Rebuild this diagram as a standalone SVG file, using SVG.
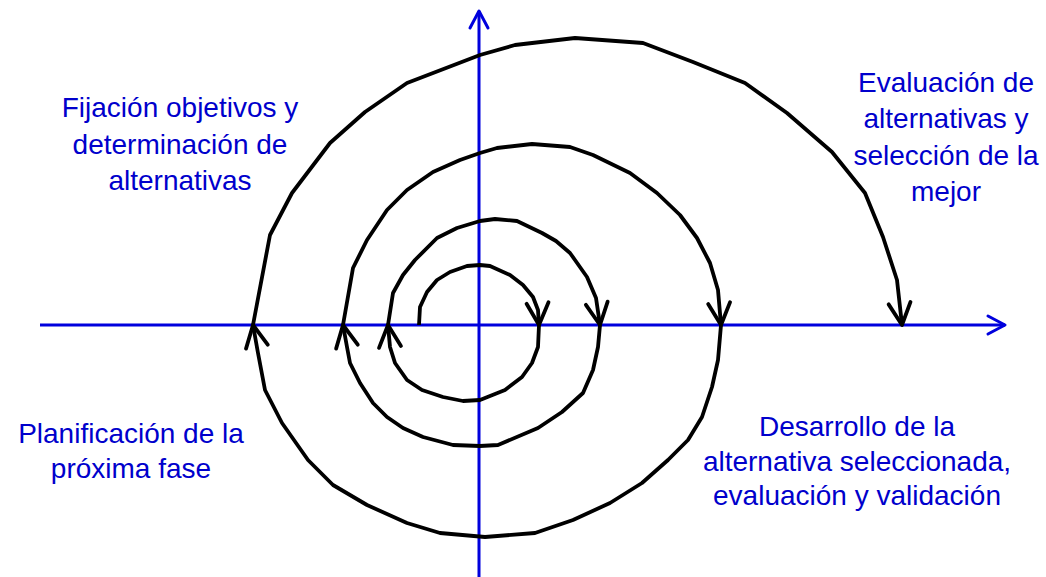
<svg xmlns="http://www.w3.org/2000/svg" width="1046" height="577" viewBox="0 0 1046 577">
<style>
.axis{stroke:#0000DD;stroke-width:3;fill:none}
.sp{stroke:#000;stroke-width:3.8;fill:none;stroke-linejoin:round;marker-end:url(#ah)}
.lbl{font-family:"Liberation Sans",Arial,sans-serif;font-size:28px;fill:#0000CC;text-anchor:middle}
</style>
<defs>
<marker id="ah" viewBox="-26 -14 30 28" markerWidth="30" markerHeight="28" refX="0" refY="0" orient="auto" markerUnits="userSpaceOnUse" overflow="visible">
<path d="M-22,-11 L0,0 L-22,11" fill="none" stroke="#000" stroke-width="3.8" stroke-linecap="round" stroke-linejoin="round"/>
</marker>
<marker id="axh" viewBox="-20 -11 24 22" markerWidth="24" markerHeight="22" refX="0" refY="0" orient="auto" markerUnits="userSpaceOnUse" overflow="visible">
<path d="M-17,-9 L0,0 L-17,9" fill="none" stroke="#0000DD" stroke-width="3" stroke-linecap="round" stroke-linejoin="round"/>
</marker>
</defs>
<g id="axes">
<line class="axis" x1="40" y1="325" x2="1005" y2="325" marker-end="url(#axh)"/>
<line class="axis" x1="479" y1="577" x2="479" y2="11" marker-end="url(#axh)"/>
</g>
<g id="connectors">
<path class="sp" d="M419,325 L420,307 L427,292 L437,280 L450,272 L467,266 L480,265 L490,266 L510,275 L523,285 L533,297 L538,310 L539,325"/>
<path class="sp" d="M539,325 L538,347 L532,363 L522,377 L505,390 L480,400 L463,401 L443,397 L422,390 L407,380 L395,363 L390,347 L388,325"/>
<path class="sp" d="M388,325 L393,293 L403,275 L415,260 L437,238 L457,228 L480,221 L495,219 L517,221 L542,233 L556,241 L570,253 L587,277 L596,298 L600,325"/>
<path class="sp" d="M600,325 L598,347 L593,370 L583,393 L562,412 L538,428 L498,445 L480,446 L453,445 L423,437 L403,428 L387,417 L373,403 L360,383 L350,363 L347,347 L343,325"/>
<path class="sp" d="M343,325 L353,268 L367,240 L387,210 L407,190 L433,172 L460,160 L480,153 L497,148 L532,144 L570,147 L593,155 L630,173 L657,193 L680,215 L697,238 L710,263 L718,290 L721,325"/>
<path class="sp" d="M721,325 L718,360 L712,387 L702,417 L688,440 L668,460 L642,483 L610,503 L573,520 L535,533 L485,537 L440,533 L407,523 L367,505 L333,485 L308,460 L282,423 L265,390 L258,353 L253,325"/>
<path class="sp" d="M253,325 L270,235 L292,193 L330,143 L365,112 L407,83 L480,55 L515,45 L575,38 L643,43 L693,62 L745,83 L787,113 L832,152 L865,193 L883,237 L897,280 L902,325"/>
</g>
<g id="node-fijacion">
<text class="lbl" x="180" y="117">Fijación objetivos y</text>
<text class="lbl" x="180" y="154">determinación de</text>
<text class="lbl" x="180" y="190">alternativas</text>
</g>
<g id="node-evaluacion">
<text class="lbl" x="946" y="92">Evaluación de</text>
<text class="lbl" x="946" y="128">alternativas y</text>
<text class="lbl" x="946" y="165">selección de la</text>
<text class="lbl" x="946" y="201">mejor</text>
</g>
<g id="node-desarrollo">
<text class="lbl" x="857" y="436">Desarrollo de la</text>
<text class="lbl" x="857" y="471">alternativa seleccionada,</text>
<text class="lbl" x="857" y="505">evaluación y validación</text>
</g>
<g id="node-planificacion">
<text class="lbl" x="131" y="443">Planificación de la</text>
<text class="lbl" x="131" y="478">próxima fase</text>
</g>
</svg>
